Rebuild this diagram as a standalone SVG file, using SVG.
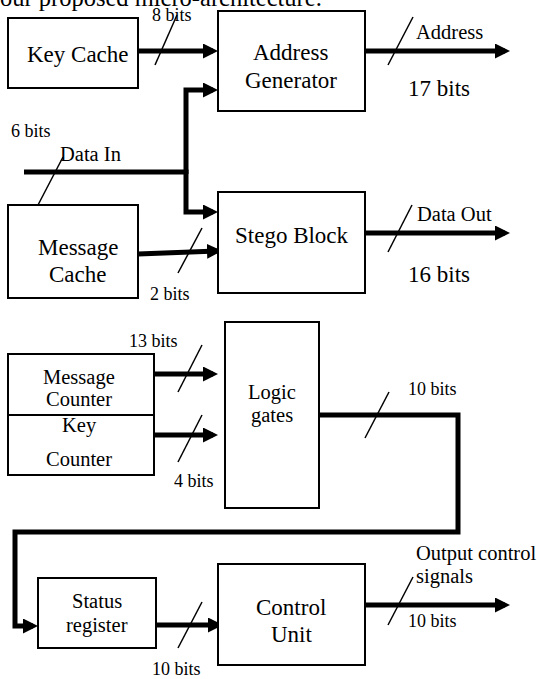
<svg xmlns="http://www.w3.org/2000/svg" width="537" height="679" viewBox="0 0 537 679">
<style>
  .box { fill: #fff; stroke: #000; stroke-width: 2; }
  .bus { fill: none; stroke: #000; stroke-width: 5; stroke-linejoin: miter; }
  .slash { stroke: #000; stroke-width: 1.5; fill: none; }
  .big { font-family: "Liberation Serif", "Times New Roman", serif; font-size: 23px; fill: #000; }
  .mid { font-family: "Liberation Serif", "Times New Roman", serif; font-size: 20.5px; fill: #000; }
  .small { font-family: "Liberation Serif", "Times New Roman", serif; font-size: 18px; fill: #000; }
</style>
<defs>
  <marker id="arr" viewBox="0 0 15 15" refX="10" refY="7.5" markerWidth="15" markerHeight="15" markerUnits="userSpaceOnUse" orient="auto">
    <path d="M0,0 L15,7.5 L0,15 Z" fill="#000"/>
  </marker>
</defs>

<text x="0" y="6" font-family="'Liberation Serif', serif" font-size="24.5">our proposed micro-architecture.</text>

<g id="connectors">
  <path class="bus" d="M138,51 H213" marker-end="url(#arr)"/>
  <path class="bus" d="M186,174 V90 H213" marker-end="url(#arr)"/>
  <path class="bus" d="M24,172 H186 V212 H213" marker-end="url(#arr)"/>
  <path class="bus" d="M138,254 L217,251" marker-end="url(#arr)"/>
  <path class="bus" d="M365,51 H505" marker-end="url(#arr)"/>
  <path class="bus" d="M365,233 H505" marker-end="url(#arr)"/>
  <path class="bus" d="M154,374 H213" marker-end="url(#arr)"/>
  <path class="bus" d="M154,435 H213" marker-end="url(#arr)"/>
  <path class="bus" d="M319,415 H458 V532 H15 V626 H33" marker-end="url(#arr)"/>
  <path class="bus" d="M156,625 H218" marker-end="url(#arr)"/>
  <path class="bus" d="M365,605 H505" marker-end="url(#arr)"/>

  <line class="slash" x1="155" y1="65" x2="177" y2="15"/>
  <line class="slash" x1="38" y1="205" x2="63" y2="157"/>
  <line class="slash" x1="178" y1="273" x2="202" y2="228"/>
  <line class="slash" x1="388" y1="65" x2="413" y2="17"/>
  <line class="slash" x1="388" y1="252" x2="412" y2="205"/>
  <line class="slash" x1="178" y1="392" x2="202" y2="345"/>
  <line class="slash" x1="178" y1="462" x2="202" y2="415"/>
  <line class="slash" x1="365" y1="438" x2="389" y2="392"/>
  <line class="slash" x1="178" y1="648" x2="202" y2="602"/>
  <line class="slash" x1="388" y1="625" x2="413" y2="577"/>

  <text class="small" x="152" y="21">8 bits</text>
  <text class="small" x="11" y="137">6 bits</text>
  <text class="mid" x="60" y="161">Data In</text>
  <text class="small" x="150" y="300">2 bits</text>
  <text class="mid" x="416" y="39">Address</text>
  <text class="big" x="408" y="96">17 bits</text>
  <text class="mid" x="417" y="221">Data Out</text>
  <text class="big" x="408" y="282">16 bits</text>
  <text class="small" x="129" y="347">13 bits</text>
  <text class="small" x="174" y="487">4 bits</text>
  <text class="small" x="408" y="395">10 bits</text>
  <text class="small" x="152" y="675">10 bits</text>
  <text class="mid" x="416" y="560">Output control</text>
  <text class="mid" x="416" y="583">signals</text>
  <text class="small" x="408" y="627">10 bits</text>
</g>

<g id="key-cache">
  <rect class="box" x="8" y="18" width="130" height="70"/>
  <text class="big" x="27" y="62">Key Cache</text>
</g>
<g id="address-generator">
  <rect class="box" x="218" y="11" width="147" height="100"/>
  <text class="big" x="253" y="60">Address</text>
  <text class="big" x="245" y="88">Generator</text>
</g>
<g id="message-cache">
  <rect class="box" x="8" y="205" width="130" height="93"/>
  <text class="big" x="38" y="255">Message</text>
  <text class="big" x="49" y="282">Cache</text>
</g>
<g id="stego-block">
  <rect class="box" x="218" y="192" width="147" height="101"/>
  <text class="big" x="235" y="243">Stego Block</text>
</g>
<g id="message-counter">
  <rect class="box" x="8" y="354" width="146" height="61"/>
  <text class="mid" x="43" y="384">Message</text>
  <text class="mid" x="46" y="406">Counter</text>
</g>
<g id="key-counter">
  <rect class="box" x="8" y="415" width="146" height="60"/>
  <text class="mid" x="62" y="432">Key</text>
  <text class="mid" x="46" y="466">Counter</text>
</g>
<g id="logic-gates">
  <rect class="box" x="225" y="322" width="94" height="186"/>
  <text class="mid" x="248" y="399">Logic</text>
  <text class="mid" x="251" y="422">gates</text>
</g>
<g id="status-register">
  <rect class="box" x="38" y="578" width="118" height="70"/>
  <text class="mid" x="72" y="608">Status</text>
  <text class="mid" x="66" y="632">register</text>
</g>
<g id="control-unit">
  <rect class="box" x="218" y="564" width="147" height="101"/>
  <text class="big" x="256" y="615">Control</text>
  <text class="big" x="271" y="642">Unit</text>
</g>
</svg>
